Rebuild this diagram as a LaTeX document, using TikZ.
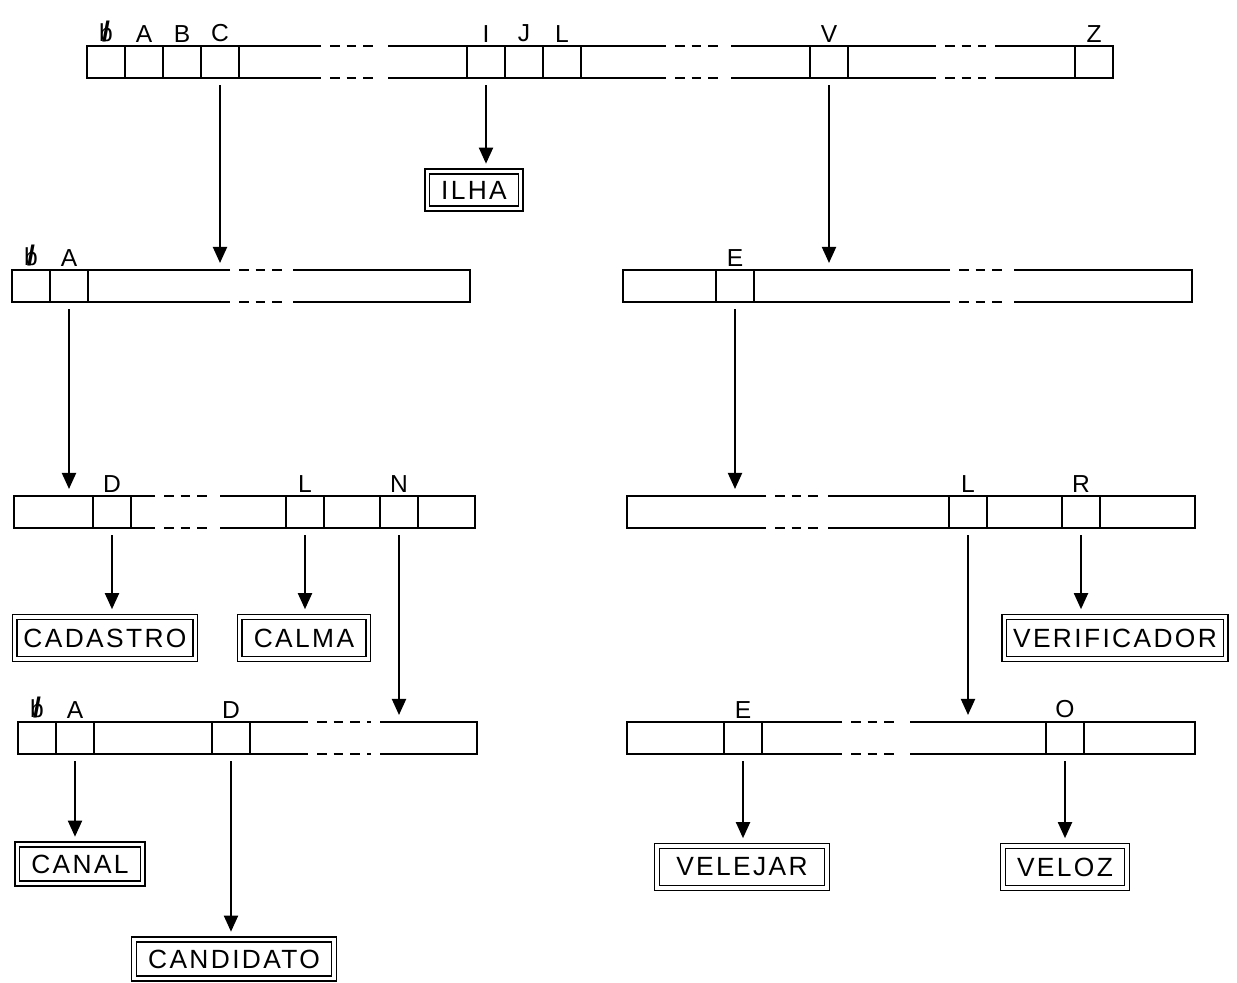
\documentclass[tikz,border=0pt]{standalone}
\usepackage{fontspec}
\setmainfont{Liberation Sans}
\newfontfamily\wordfont[LetterSpace=9]{Liberation Sans}
\usetikzlibrary{arrows.meta}

% struck-out b for the blank character
\newcommand{\blankchar}{\ooalign{b\cr\hidewidth\scalebox{1.15}{\bfseries/}\hidewidth}}

% one row of slots with a single break: y, left end, break start, break end, right end
\newcommand{\slotrow}[5]{%
  \draw[frame_line] (#3,#1-16) -| (#2,#1+16) -- (#3,#1+16);
  \draw[frame_line] (#4,#1-16) -| (#5,#1+16) -- (#4,#1+16);
  \draw[gap_dash] (#3+9,#1-16) -- (#4-9,#1-16) (#3+9,#1+16) -- (#4-9,#1+16);
}

\begin{document}
\begin{tikzpicture}[
x=0.02cm, y=-0.02cm,
frame_line/.style={line width=1pt},
gap_dash/.style={line width=1pt, dash pattern=on 5.5pt off 4pt},
cell_label/.style={font=\fontsize{14}{16}\selectfont, inner sep=2pt},
cell/.style={rectangle, draw, line width=1pt, minimum width=0.76cm, minimum height=0.64cm, inner sep=0pt, outer sep=0pt, label={[cell_label]above:#1}},
word_box/.style={rectangle, draw, double, double distance=1.8pt, line width=0.9pt, inner xsep=8pt, minimum height=0.84cm, font=\wordfont\fontsize{15}{18}\selectfont},
down_arrow/.style={-{Triangle[length=3.2mm, width=2.8mm]}, line width=1.1pt, shorten <=4pt, shorten >=4pt}
]
\useasboundingbox (0,0) rectangle (1237,983);

% root row
\draw[frame_line] (321,46) -| (87,78) -- (321,78);
\draw[frame_line] (388,46) -- (666,46) (388,78) -- (666,78);
\draw[frame_line] (731,46) -- (936,46) (731,78) -- (936,78);
\draw[frame_line] (995,46) -| (1113,78) -- (995,78);
\foreach \a/\b in {321/388, 666/731, 936/995}
  \draw[gap_dash] (\a+9,46) -- (\b-9,46) (\a+9,78) -- (\b-9,78);

\node[cell=\blankchar](top_blank) at (106,62) {};
\node[cell=A](top_A) at (144,62) {};
\node[cell=B](top_B) at (182,62) {};
\node[cell=C](top_C) at (220,62) {};
\node[cell=I](top_I) at (486,62) {};
\node[cell=J](top_J) at (524,62) {};
\node[cell=L](top_L) at (562,62) {};
\node[cell=V](top_V) at (829,62) {};
\node[cell=Z](top_Z) at (1094,62) {};

% second level
\slotrow{286}{12}{230}{293}{470}
\node[cell=\blankchar](ca_blank) at (31,286) {};
\node[cell=A](ca_A) at (69,286) {};

\slotrow{286}{623}{950}{1014}{1192}
\node[cell=E](ve_E) at (735,286) {};

% third level
\slotrow{512}{14}{155}{220}{475}
\node[cell=D](cad_D) at (112,512) {};
\node[cell=L](cal_L) at (305,512) {};
\node[cell=N](can_N) at (399,512) {};

\slotrow{512}{627}{766}{828}{1195}
\node[cell=L](vel_L) at (968,512) {};
\node[cell=R](ver_R) at (1081,512) {};

% fourth level
\slotrow{738}{18}{308}{380}{477}
\node[cell=\blankchar](cana_blank) at (37,738) {};
\node[cell=A](cana_A) at (75,738) {};
\node[cell=D](cand_D) at (231,738) {};

\slotrow{738}{627}{842}{910}{1195}
\node[cell=E](vele_E) at (743,738) {};
\node[cell=O](velo_O) at (1065,738) {};

% words
\node[word_box, minimum height=0.74cm](ilha) at (474,190) {ILHA};
\node[word_box, inner xsep=5pt](cadastro) at (105,638) {CADASTRO};
\node[word_box](calma) at (304,638) {CALMA};
\node[word_box, inner xsep=5pt](verificador) at (1115,638) {VERIFICADOR};
\node[word_box, minimum height=0.78cm](canal) at (80,864) {CANAL};
\node[word_box, minimum height=0.78cm](candidato) at (234,959) {CANDIDATO};
\node[word_box, inner xsep=11pt](velejar) at (742,867) {VELEJAR};
\node[word_box](veloz) at (1065,867) {VELOZ};

% pointers
\draw[down_arrow] (top_C) -- (top_C |- ca_A.north);
\draw[down_arrow] (top_I) -- (top_I |- ilha.north);
\draw[down_arrow] (top_V) -- (top_V |- ve_E.north);

\draw[down_arrow] (ca_A) -- (ca_A |- cad_D.north);
\draw[down_arrow] (ve_E) -- (ve_E |- vel_L.north);

\draw[down_arrow] (cad_D) -- (cad_D |- cadastro.north);
\draw[down_arrow] (cal_L) -- (cal_L |- calma.north);
\draw[down_arrow] (can_N) -- (can_N |- cand_D.north);
\draw[down_arrow] (vel_L) -- (vel_L |- vele_E.north);
\draw[down_arrow] (ver_R) -- (ver_R |- verificador.north);

\draw[down_arrow] (cana_A) -- (cana_A |- canal.north);
\draw[down_arrow] (cand_D) -- (cand_D |- candidato.north);
\draw[down_arrow] (vele_E) -- (vele_E |- velejar.north);
\draw[down_arrow] (velo_O) -- (velo_O |- veloz.north);

\end{tikzpicture}
\end{document}
